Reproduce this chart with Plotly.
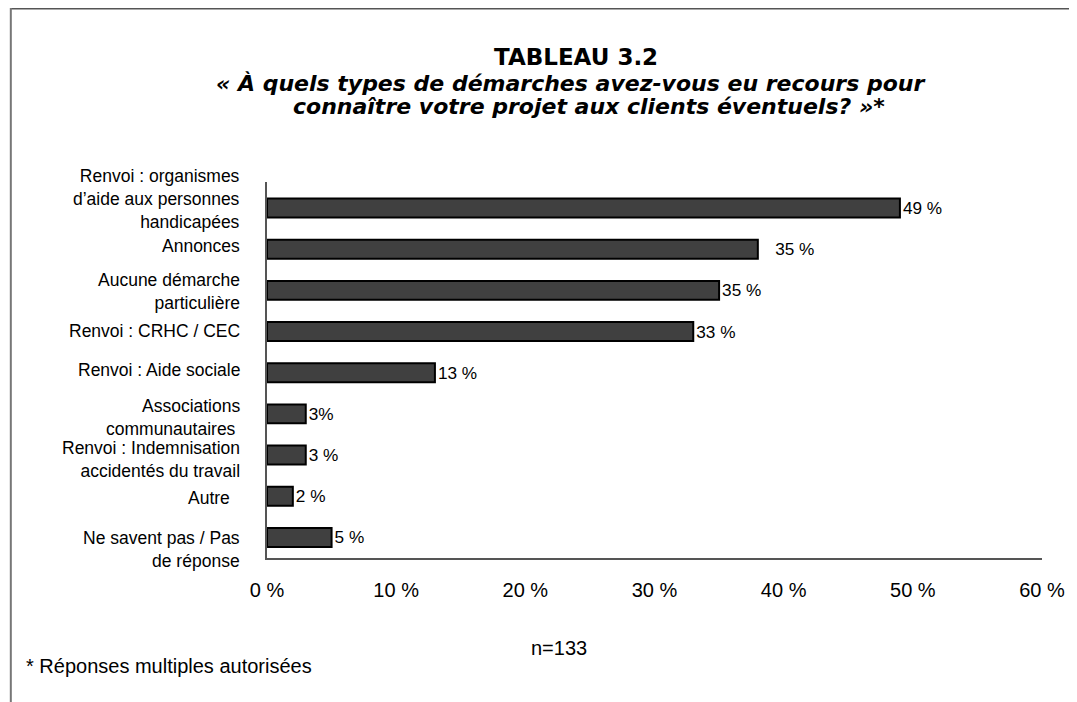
import plotly.graph_objects as go

categories = [
    "Renvoi : organismes<br>d’aide aux personnes<br>handicapées",
    "Annonces",
    "Aucune démarche<br>particulière",
    "Renvoi : CRHC / CEC",
    "Renvoi : Aide sociale",
    "Associations<br>communautaires\u00a0",
    "Renvoi : Indemnisation<br>accidentés du travail",
    "Autre\u00a0\u00a0",
    "Ne savent pas / Pas<br>de réponse",
]
values = [49, 38, 35, 33, 13, 3, 3, 2, 5]
value_labels = ["49 %", "\u00a0\u00a0\u00a035 %", "35 %", "33 %", "13 %", "3%", "3 %", "2 %", "5 %"]
x_ticks = [0, 10, 20, 30, 40, 50, 60]
x_tick_labels = ["0 %", "10 %", "20 %", "30 %", "40 %", "50 %", "60 %"]

title_lines = [
    "TABLEAU 3.2",
    "« À quels types de démarches avez-vous eu recours pour",
    "connaître votre projet aux clients éventuels? »*",
]
sample_note = "n=133"
footnote = "* Réponses multiples autorisées"

# The page body keeps an 8 px margin, so the figure is sized to fit the window.
BODY = 8
PAGE_W, PAGE_H = 1077, 702
W, H = PAGE_W - BODY, PAGE_H - BODY
PLOT_X0, PLOT_X1, PLOT_Y0, PLOT_Y1 = 267, 1049, 182, 558  # page pixels
L, T = PLOT_X0 - BODY, PLOT_Y0 - BODY
R, B = W - (PLOT_X1 - BODY), H - (PLOT_Y1 - BODY)
PW, PH = PLOT_X1 - PLOT_X0, PLOT_Y1 - PLOT_Y0
FONT = "Liberation Sans, Arial, sans-serif"
TITLE_FONT = "DejaVu Sans, Liberation Sans, Arial, sans-serif"


def px(x):
    return (x - PLOT_X0) / PW


def py(y):
    return (PLOT_Y1 - y) / PH


# small vertical nudges of the category labels (pixels, up is positive)
label_yshift = [9, 3, -1, 1, 3, -4, -4, -2, -12]

fig = go.Figure()
fig.add_trace(
    go.Bar(
        x=values,
        y=categories,
        orientation="h",
        marker=dict(color="#404040", line=dict(color="#000000", width=2)),
        text=value_labels,
        textposition="outside",
        textfont=dict(size=20, color="#000000", family=FONT),
        cliponaxis=False,
        hoverinfo="skip",
    )
)

annotations = [
    dict(text="<b>" + title_lines[0] + "</b>", x=px(579), y=py(57), font=dict(size=23, family=TITLE_FONT)),
    dict(text="<b><i>" + title_lines[1] + "</i></b>", x=px(573), y=py(84), font=dict(size=22, family=TITLE_FONT)),
    dict(text="<b><i>" + title_lines[2] + "</i></b>", x=px(592), y=py(106), font=dict(size=22, family=TITLE_FONT)),
    dict(text=sample_note, x=px(562), y=py(648), font=dict(size=20)),
    dict(text=footnote, x=px(22), y=py(666), xanchor="left", font=dict(size=20)),
]
for a in annotations:
    a.setdefault("xanchor", "center")
    a.update(xref="paper", yref="paper", yanchor="middle", showarrow=False)
    a["font"].setdefault("family", FONT)
    a["font"]["color"] = "#000000"

for cat, dy in zip(categories, label_yshift):
    annotations.append(
        dict(
            text=cat, xref="paper", yref="y", x=0, y=cat, xanchor="right", yanchor="middle",
            align="right", xshift=-25, yshift=dy, showarrow=False,
            font=dict(size=17.5, family=FONT, color="#000000"),
        )
    )

shapes = [
    dict(type="line", xref="paper", yref="paper", x0=px(BODY), x1=px(PAGE_W), y0=py(BODY + 0.5), y1=py(BODY + 0.5),
         line=dict(color="#555555", width=2)),
    dict(type="line", xref="paper", yref="paper", x0=px(BODY + 0.5), x1=px(BODY + 0.5), y0=py(BODY), y1=py(PAGE_H),
         line=dict(color="#777777", width=2)),
]

fig.update_layout(
    width=W,
    height=H,
    margin=dict(l=L, r=R, t=T, b=B, pad=0),
    paper_bgcolor="white",
    plot_bgcolor="white",
    showlegend=False,
    bargap=0.54,
    font=dict(family=FONT, color="#000000"),
    annotations=annotations,
    shapes=shapes,
)
fig.update_xaxes(
    range=[0, 60],
    tickvals=x_ticks,
    ticktext=x_tick_labels,
    showgrid=False,
    zeroline=False,
    showline=True,
    linecolor="#555555",
    linewidth=2,
    ticks="outside",
    ticklen=13,
    tickcolor="rgba(0,0,0,0)",
    tickfont=dict(size=20, family=FONT, color="#000000"),
    fixedrange=True,
)
fig.update_yaxes(
    autorange="reversed",
    showgrid=False,
    zeroline=False,
    showline=True,
    linecolor="#555555",
    linewidth=2,
    showticklabels=False,
    ticks="",
    fixedrange=True,
)

fig.write_html("out.html")
